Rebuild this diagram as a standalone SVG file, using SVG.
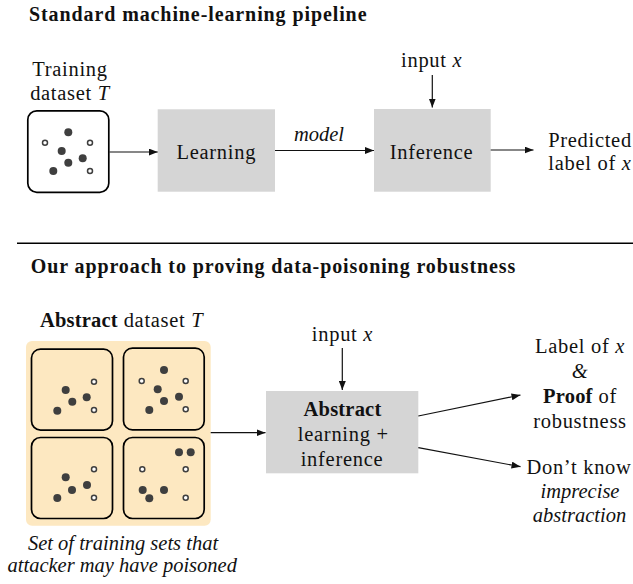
<svg xmlns="http://www.w3.org/2000/svg" width="633" height="584" viewBox="0 0 633 584">
<style>
text{font-family:"Liberation Serif","Times New Roman",serif;fill:#111;}
.title{font-size:20px;font-weight:bold;letter-spacing:0.9px;}
.t{font-size:20.5px;letter-spacing:0.7px;text-anchor:middle;}
.it{font-style:italic;}
.ti{font-size:20.5px;font-style:italic;letter-spacing:0px;text-anchor:middle;}
.b{font-weight:bold;letter-spacing:0.2px;}
.proc{fill:#d5d5d5;stroke:none;}
.ds{fill:none;stroke:#000;stroke-width:1.7;}
.f{fill:#3f3f3f;}
.o{fill:#fff;stroke:#3f3f3f;stroke-width:1.5;}
.conn{stroke:#111;stroke-width:1.2;fill:none;marker-end:url(#ah);}
</style>
<defs>
<marker id="ah" markerWidth="9" markerHeight="7" refX="9" refY="3.5" orient="auto" markerUnits="userSpaceOnUse">
<path d="M0,0 L9,3.5 L0,7 Z" fill="#111"/>
</marker>
</defs>

<text class="title" x="29" y="20.7">Standard machine-learning pipeline</text>

<g id="training-dataset">
<text class="t" x="70" y="76">Training</text>
<text class="t" x="70" y="100">dataset <tspan class="it">T</tspan></text>
<rect class="ds" x="27.8" y="110.8" width="81" height="81.5" rx="9"/>
<circle class="f" cx="68.3" cy="132.3" r="4"/>
<circle class="f" cx="61.7" cy="151" r="4"/>
<circle class="f" cx="68.3" cy="162.7" r="4"/>
<circle class="f" cx="82.7" cy="158.3" r="4"/>
<circle class="f" cx="53.3" cy="171" r="4"/>
<circle class="o" cx="45" cy="142.7" r="2.5"/>
<circle class="o" cx="90" cy="142.7" r="2.5"/>
<circle class="o" cx="90" cy="171" r="2.5"/>
</g>

<g id="learning">
<rect class="proc" x="157.7" y="109.3" width="117.3" height="82.4"/>
<text class="t" x="216.3" y="158.8">Learning</text>
</g>

<g id="inference">
<rect class="proc" x="374" y="109" width="116.7" height="82.7"/>
<text class="t" x="431.5" y="158.6">Inference</text>
</g>

<g id="input-top">
<text class="t" x="431.7" y="67.3">input <tspan class="it">x</tspan></text>
</g>

<g id="predicted">
<text class="t" x="590" y="146.5">Predicted</text>
<text class="t" x="590" y="169.5">label of <tspan class="it">x</tspan></text>
</g>

<line x1="17" y1="243.3" x2="633" y2="243.3" stroke="#000" stroke-width="1.5"/>

<text class="title" x="30.7" y="273.3">Our approach to proving data-poisoning robustness</text>

<g id="abstract-dataset">
<text class="t" x="121.7" y="327.3"><tspan class="b">Abstract</tspan> dataset <tspan class="it">T</tspan></text>
<rect x="26" y="341" width="184.7" height="184.7" rx="6" fill="#fde8c1"/>
<rect class="ds" x="31.5" y="349.1" width="81" height="81" rx="9"/>
<rect class="ds" x="123.5" y="348.1" width="80.7" height="81.8" rx="9"/>
<rect class="ds" x="31.5" y="437.5" width="81" height="81" rx="9"/>
<rect class="ds" x="123.5" y="437.5" width="80.7" height="81" rx="9"/>
<circle class="f" cx="65.7" cy="390" r="4"/>
<circle class="f" cx="72.3" cy="401.7" r="4"/>
<circle class="f" cx="86.7" cy="397.3" r="4"/>
<circle class="f" cx="57.3" cy="410.7" r="4"/>
<circle class="o" cx="94" cy="381.7" r="2.5"/>
<circle class="o" cx="94" cy="410" r="2.5"/>
<circle class="f" cx="164" cy="370" r="4"/>
<circle class="f" cx="157.7" cy="389.3" r="4"/>
<circle class="f" cx="164" cy="401" r="4"/>
<circle class="f" cx="179" cy="396.7" r="4"/>
<circle class="f" cx="149.3" cy="410" r="4"/>
<circle class="o" cx="141.7" cy="381" r="2.5"/>
<circle class="o" cx="185.7" cy="381" r="2.5"/>
<circle class="o" cx="185.7" cy="409.3" r="2.5"/>
<circle class="f" cx="65.7" cy="477.3" r="4"/>
<circle class="f" cx="72" cy="490" r="4"/>
<circle class="f" cx="87" cy="485" r="4"/>
<circle class="f" cx="57.3" cy="498" r="4"/>
<circle class="o" cx="94" cy="469.3" r="2.5"/>
<circle class="o" cx="94" cy="497.7" r="2.5"/>
<circle class="f" cx="179" cy="452.3" r="4"/>
<circle class="f" cx="190.7" cy="452.3" r="4"/>
<circle class="f" cx="142.7" cy="490" r="4"/>
<circle class="f" cx="149.3" cy="498.3" r="4"/>
<circle class="f" cx="164" cy="490" r="4"/>
<circle class="o" cx="142.3" cy="469.3" r="2.5"/>
<circle class="o" cx="185.7" cy="469.3" r="2.5"/>
<circle class="o" cx="185.7" cy="497.7" r="2.5"/>
<text class="ti" x="123" y="549.6">Set of training sets that</text>
<text class="ti" x="122.2" y="571.7" letter-spacing="-0.3">attacker may have poisoned</text>
</g>

<g id="abstract-learning">
<rect class="proc" x="266" y="391" width="152.3" height="82.3"/>
<text class="t" x="342.5" y="416"><tspan class="b">Abstract</tspan></text>
<text class="t" x="343.3" y="440.7">learning +</text>
<text class="t" x="342" y="465.5">inference</text>
</g>

<g id="input-bottom">
<text class="t" x="342.5" y="340.5">input <tspan class="it">x</tspan></text>
</g>

<g id="proof-output">
<text class="t" x="580" y="353.3">Label of <tspan class="it">x</tspan></text>
<text class="t it" x="580" y="377.7">&amp;</text>
<text class="t" x="580" y="403.3"><tspan class="b">Proof</tspan> of</text>
<text class="t" x="580" y="427.5">robustness</text>
</g>

<g id="dont-know-output">
<text class="t" x="579" y="474">Don’t know</text>
<text class="ti" x="580" y="498" letter-spacing="-0.3">imprecise</text>
<text class="ti" x="579.5" y="522" letter-spacing="-0.3">abstraction</text>
</g>

<g id="connectors">
<line class="conn" x1="109.5" y1="152" x2="157.7" y2="152"/>
<line class="conn" x1="275" y1="150.5" x2="374" y2="150.5"/>
<text class="ti" x="319" y="141" letter-spacing="-0.3">model</text>
<line class="conn" x1="490.7" y1="150" x2="533.5" y2="150"/>
<line class="conn" x1="432.3" y1="75" x2="432.3" y2="107.5"/>
<line class="conn" x1="210.7" y1="432.7" x2="265.5" y2="432.7"/>
<line class="conn" x1="342.3" y1="348" x2="342.3" y2="390"/>
<line class="conn" x1="418.3" y1="416" x2="520.5" y2="395"/>
<line class="conn" x1="418.3" y1="447.7" x2="520.5" y2="466.7"/>
</g>
</svg>
